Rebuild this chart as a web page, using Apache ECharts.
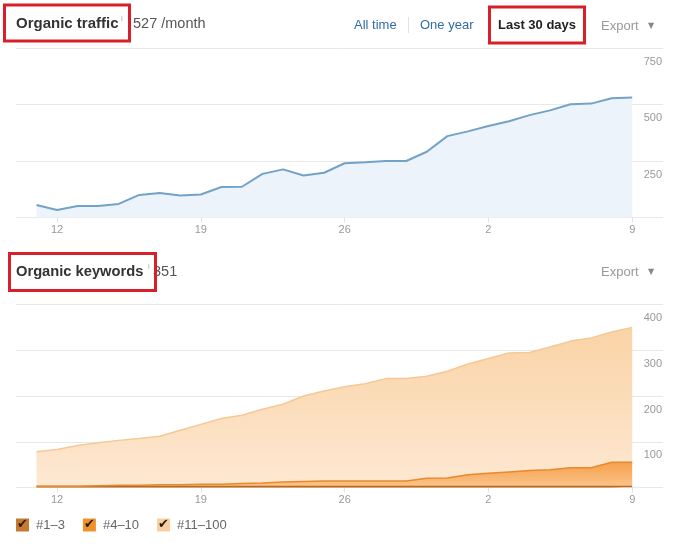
<!DOCTYPE html>
<html>
<head>
<meta charset="utf-8">
<script src="https://cdn.jsdelivr.net/npm/echarts@6/dist/echarts.min.js"></script>
<style>
  html, body { margin: 0; padding: 0; background: #fff; }
  #main { width: 680px; height: 546px; }
</style>
</head>
<body>
<div id="main"></div>
<script>
// days shown on the x axis (last 30 days)
var days = ['11','12','13','14','15','16','17','18','19','20','21','22','23','24','25',
            '26','27','28','29','30','31','1','2','3','4','5','6','7','8','9'];
var tickDays = ['12', '19', '26', '2', '9'];

// organic traffic per day
var traffic = [55, 33, 51, 51, 60, 100, 108, 97, 102, 135, 136, 193, 213, 186, 198,
               240, 244, 250, 250, 291, 360, 381, 405, 426, 453, 474, 501, 504, 528, 531];
var trafficTicks = [0, 250, 500, 750];

// organic keywords by position
var pos1to3 = [2, 2, 2, 2, 2, 2, 2, 2, 2, 2, 2, 2, 2, 2, 2,
               2, 2, 2, 2, 2, 2, 2, 2, 2, 2, 2, 2, 2, 2, 2];
var pos4to10 = [1, 1, 1, 2, 3, 3, 4, 4, 5, 5, 7, 8, 10, 11, 12,
                12, 12, 12, 12, 18, 19, 26, 29, 32, 35, 37, 41, 41, 53, 53];
var pos11to100 = [75, 80, 89, 94, 98, 102, 106, 119, 131, 144, 149, 161, 170, 187, 197,
                  206, 213, 224, 224, 223, 233, 242, 251, 260, 258, 268, 277, 284, 285, 295];
var keywordTicks = [0, 100, 200, 300, 400];
var keywordNames = ['#1–3', '#4–10', '#11–100'];

// value first, day index second, so the stack runs on the value dimension
function pairs(arr) {
  return arr.map(function (v, i) { return [v, i]; });
}
var tickIdx = tickDays.map(function (d, k) {
  // '2' and '9' belong to the second month, take the last match
  return k < 3 ? days.indexOf(d) : days.lastIndexOf(d);
});

var FONT = '"Liberation Sans", Arial, sans-serif';
var RED = '#d8202b';

function xAxisFor(gi) {
  return {
    type: 'value', gridIndex: gi, min: -1, max: 30.5,
    axisLine: { show: false },
    splitLine: { show: false },
    axisTick: { show: true, customValues: tickIdx, length: 5, lineStyle: { color: '#e3e3e3' } },
    axisLabel: {
      customValues: tickIdx, color: '#999', fontSize: 11, fontFamily: FONT, margin: 7,
      formatter: function (v) { return days[Math.round(v)]; }
    }
  };
}
function yAxisFor(gi, ticks) {
  return {
    type: 'value', gridIndex: gi, position: 'right',
    min: ticks[0], max: ticks[ticks.length - 1], interval: ticks[1] - ticks[0],
    axisLine: { show: false }, axisTick: { show: false },
    splitLine: { lineStyle: { color: '#e8e8e8', width: 1 } },
    axisLabel: {
      inside: true, margin: 1, color: '#999', fontSize: 11, fontFamily: FONT,
      verticalAlign: 'top', padding: [8, 0, 0, 0],
      formatter: function (v) { return v === 0 ? '' : String(v); }
    }
  };
}

var legendColors = ['#c47a30', '#f0922c', '#f8cfa0'];
var rich = { t: { color: '#666', fontSize: 13, fontFamily: FONT, padding: [0, 0, 0, 7] } };
legendColors.forEach(function (c, i) {
  rich['c' + i] = {
    backgroundColor: c, width: 13, height: 13, lineHeight: 13, align: 'center',
    color: '#2a1a0a', fontSize: 13, fontWeight: 'bold', fontFamily: '"DejaVu Sans"'
  };
});

function kwSeries(idx, arr, line, area) {
  return {
    name: keywordNames[idx], type: 'line', xAxisIndex: 1, yAxisIndex: 1, stack: 'kw',
    encode: { x: 1, y: 0 },
    data: pairs(arr), symbol: 'none',
    lineStyle: { color: line, width: 1.5 },
    itemStyle: { color: legendColors[idx] },
    areaStyle: { color: area, opacity: 1 }
  };
}

var chart = echarts.init(document.getElementById('main'));
chart.setOption({
  animation: false,
  backgroundColor: '#fff',
  grid: [
    { left: 16, right: 17, top: 48, height: 169.5 },
    { left: 16, right: 17, top: 304.5, height: 183 }
  ],
  xAxis: [xAxisFor(0), xAxisFor(1)],
  yAxis: [yAxisFor(0, trafficTicks), yAxisFor(1, keywordTicks)],
  legend: {
    left: 6, top: 513, icon: 'none', itemWidth: 0, itemGap: 13,
    data: keywordNames,
    formatter: function (name) {
      return '{c' + keywordNames.indexOf(name) + '|✔}{t|' + name + '}';
    },
    textStyle: { rich: rich }
  },
  series: [
    {
      name: 'Organic traffic', type: 'line', xAxisIndex: 0, yAxisIndex: 0,
      encode: { x: 1, y: 0 },
      data: pairs(traffic), symbol: 'none',
      lineStyle: { color: '#73a2c8', width: 2 },
      itemStyle: { color: '#73a2c8' },
      areaStyle: { color: '#edf3fa', opacity: 1 }
    },
    kwSeries(0, pos1to3, '#b86a22', '#d08a40'),
    kwSeries(1, pos4to10, '#e8892c', new echarts.graphic.LinearGradient(0, 0, 0, 1, [
      { offset: 0, color: '#f5a04c' }, { offset: 1, color: '#fbc48a' }
    ])),
    kwSeries(2, pos11to100, '#f5c895', new echarts.graphic.LinearGradient(0, 0, 0, 1, [
      { offset: 0, color: '#fad3a6' }, { offset: 1, color: '#fde8d2' }
    ]))
  ],
  graphic: [
    // top header
    { type: 'text', x: 16, y: 24, style: { text: 'Organic traffic', font: 'bold 15px ' + FONT, fill: '#333', verticalAlign: 'middle' } },
    { type: 'text', x: 121, y: 19, style: { text: 'i', font: '8px ' + FONT, fill: '#aaa', verticalAlign: 'middle' } },
    { type: 'text', x: 133, y: 24, style: { text: '527 /month', font: '14.5px ' + FONT, fill: '#555', verticalAlign: 'middle' } },
    { type: 'text', x: 354, y: 25, style: { text: 'All time', font: '13px ' + FONT, fill: '#2f6da6', verticalAlign: 'middle' } },
    { type: 'line', shape: { x1: 408.5, y1: 17, x2: 408.5, y2: 33 }, style: { stroke: '#e2e2e2', lineWidth: 1 } },
    { type: 'text', x: 420, y: 25, style: { text: 'One year', font: '13px ' + FONT, fill: '#2f6da6', verticalAlign: 'middle' } },
    { type: 'text', x: 498, y: 25, style: { text: 'Last 30 days', font: 'bold 13px ' + FONT, fill: '#222', verticalAlign: 'middle' } },
    { type: 'text', x: 601, y: 26, style: { text: 'Export', font: '13px ' + FONT, fill: '#999', verticalAlign: 'middle' } },
    { type: 'text', x: 648, y: 26, style: { text: '▼', font: '8px "DejaVu Sans"', fill: '#888', verticalAlign: 'middle' } },
    { type: 'rect', shape: { x: 4.5, y: 5, width: 125, height: 36 }, style: { fill: 'none', stroke: RED, lineWidth: 3 } },
    { type: 'rect', shape: { x: 489.5, y: 7, width: 95, height: 36 }, style: { fill: 'none', stroke: RED, lineWidth: 3 } },
    // bottom header
    { type: 'text', x: 16, y: 272, style: { text: 'Organic keywords', font: 'bold 14.7px ' + FONT, fill: '#333', verticalAlign: 'middle' } },
    { type: 'text', x: 148, y: 267, style: { text: 'i', font: '8px ' + FONT, fill: '#aaa', verticalAlign: 'middle' } },
    { type: 'text', x: 153, y: 272, style: { text: '351', font: '14.5px ' + FONT, fill: '#555', verticalAlign: 'middle' } },
    { type: 'text', x: 601, y: 272, style: { text: 'Export', font: '13px ' + FONT, fill: '#999', verticalAlign: 'middle' } },
    { type: 'text', x: 648, y: 272, style: { text: '▼', font: '8px "DejaVu Sans"', fill: '#888', verticalAlign: 'middle' } },
    { type: 'rect', shape: { x: 9.5, y: 253.5, width: 146, height: 37 }, style: { fill: 'none', stroke: RED, lineWidth: 3 } }
  ]
});
</script>
</body>
</html>
